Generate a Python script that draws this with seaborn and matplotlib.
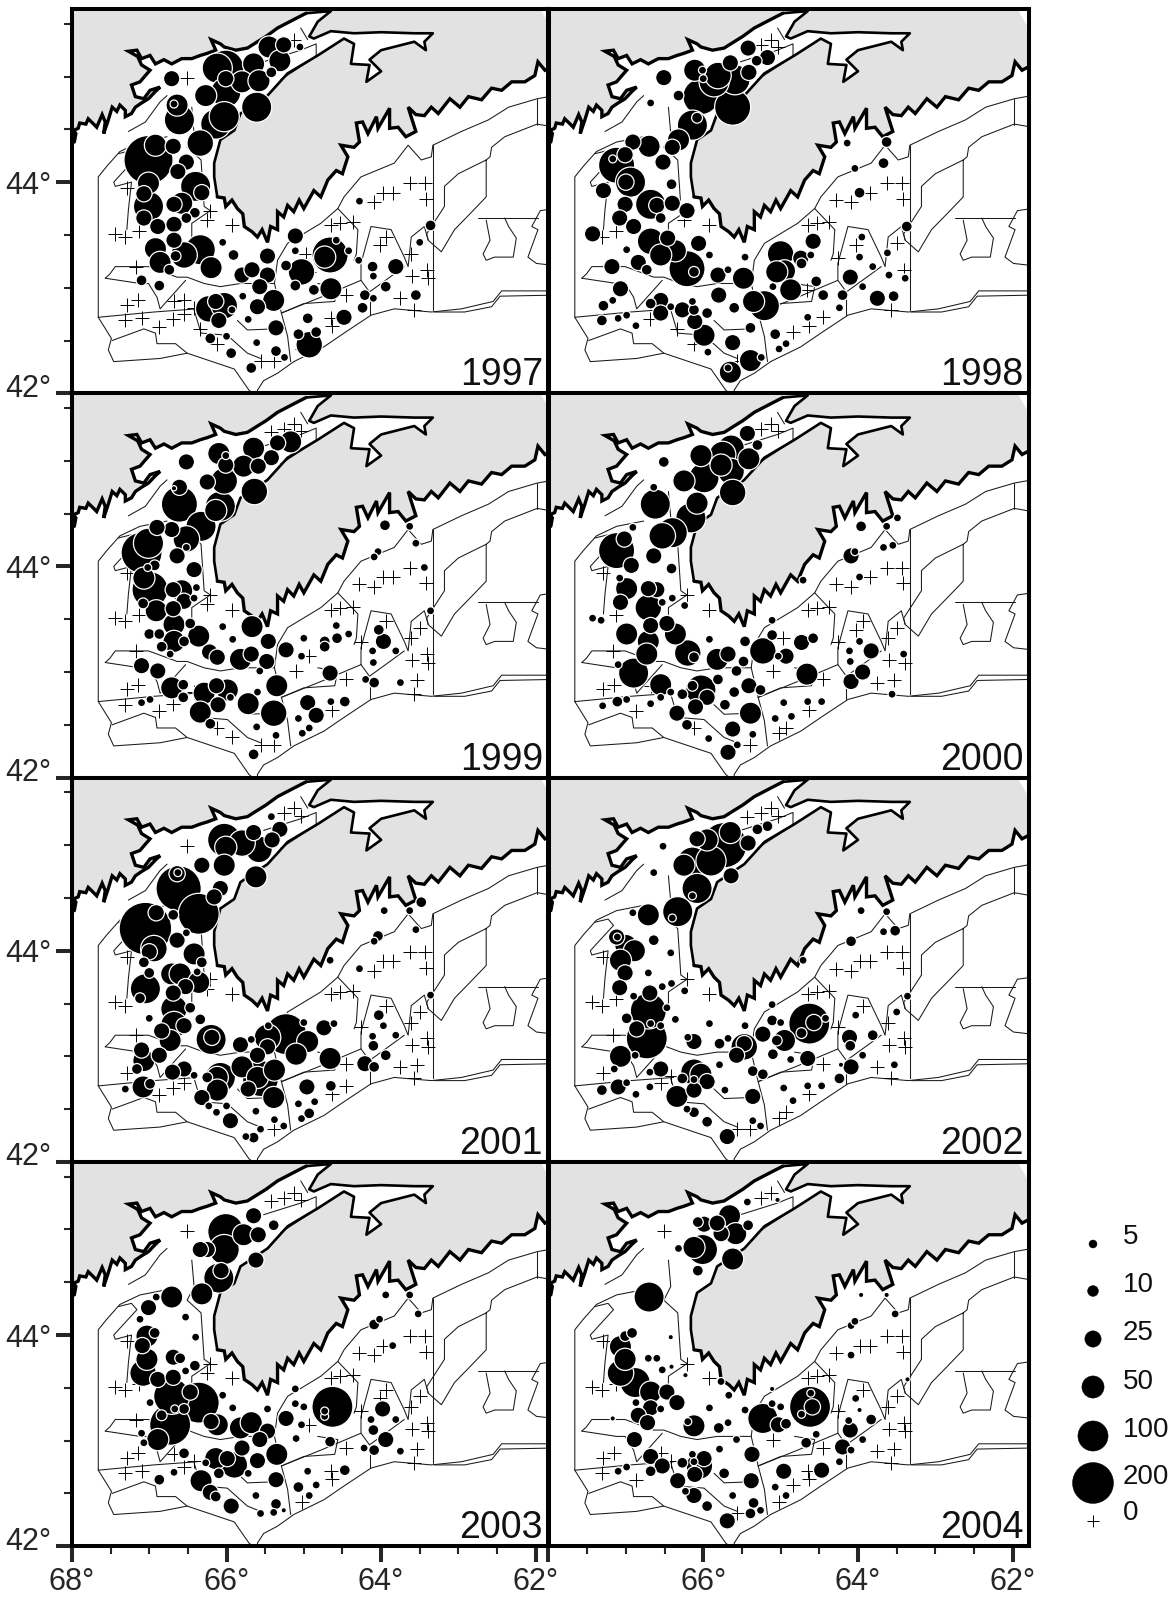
import matplotlib
matplotlib.use("Agg")
import matplotlib.pyplot as plt
import matplotlib.transforms as mtransforms
import seaborn as sns
import numpy as np
import pandas as pd

sns.set_theme(style="white")
plt.rcParams['font.family'] = ['Liberation Sans', 'DejaVu Sans']

# coast in three stretches (lon, lat): north shore, the upper bay, south shore
coast_north = [(67.97,44.38),(67.95,44.46),(67.98,44.49),(67.92,44.51),(67.90,44.56),(67.82,44.55),(67.79,44.60),
    (67.72,44.55),(67.68,44.52),(67.61,44.64),(67.57,44.57),(67.59,44.46),(67.53,44.59),(67.48,44.71),(67.42,44.67),
    (67.38,44.73),(67.31,44.68),(67.31,44.62),(67.23,44.65),(67.18,44.71),(67.10,44.75),(67.01,44.79),(66.92,44.86),
    (66.86,44.90),(66.99,44.87),(67.07,44.79),(67.18,44.81),(67.23,44.92),(67.12,44.95),(67.05,45.01),(66.99,45.06),
    (67.10,45.11),(67.15,45.19),(67.27,45.24),(67.16,45.25),(67.10,45.17),(66.99,45.20),(66.92,45.12),(66.81,45.16),
    (66.71,45.12),(66.58,45.17),(66.45,45.17),(66.34,45.20),(66.25,45.22),(66.14,45.25),(66.20,45.35),(66.08,45.31),
    (66.03,45.28),(65.88,45.25),(65.73,45.27),(65.60,45.33),(65.49,45.38),(65.34,45.46),(65.13,45.54),(64.97,45.60)]
coast_bay = [(64.97,45.60),(64.65,45.62),(64.82,45.52),(64.93,45.38),(64.87,45.36),(64.65,45.43),(64.35,45.41),
    (64.00,45.42),(63.57,45.41),(63.33,45.41),(63.44,45.33),(63.42,45.25),(63.57,45.33),(64.00,45.25),
    (64.15,45.16),(64.00,45.05),(64.19,44.95),(64.15,45.11),(64.39,45.12),(64.35,45.31),(64.48,45.36),
    (64.82,45.20),(65.21,45.03),(65.47,44.82),(65.82,44.65),(65.90,44.49),(66.08,44.40),(66.16,44.18),
    (66.16,44.05),(66.12,43.86)]
coast_south = [(66.12,43.86),(66.03,43.85),(66.01,43.77),(65.93,43.83),(65.86,43.75),(65.79,43.70),(65.77,43.58),(65.67,43.53),
    (65.60,43.48),(65.54,43.55),(65.47,43.43),(65.43,43.58),(65.34,43.55),(65.34,43.72),(65.26,43.67),(65.21,43.78),
    (65.13,43.72),(65.06,43.83),(65.00,43.75),(64.87,43.92),(64.78,43.86),(64.69,44.02),(64.58,44.11),(64.50,44.08),
    (64.43,44.24),(64.52,44.35),(64.35,44.33),(64.28,44.38),(64.32,44.56),(64.24,44.57),(64.17,44.46),(64.06,44.62),
    (64.04,44.51),(63.89,44.70),(63.89,44.51),(63.78,44.52),(63.68,44.43),(63.55,44.48),(63.65,44.71),(63.55,44.64),
    (63.44,44.63),(63.35,44.71),(63.26,44.65),(63.11,44.79),(62.98,44.71),(62.87,44.81),(62.70,44.78),(62.57,44.89),
    (62.44,44.87),(62.31,44.95),(62.14,44.95),(62.01,45.01),(61.97,45.14),(61.88,45.06),(61.75,45.11)]
land_close = [(61.75,45.40),(61.94,45.64),(68.0,45.64),(68.0,44.38)]

# thin depth contours and area boundaries
contours = [
    [(67.66,42.72),(67.66,44.05),(67.55,44.15),(67.38,44.29),(67.12,44.38),(66.77,44.43)],
    [(61.75,44.82),(61.98,44.79),(62.35,44.71),(62.61,44.59),(62.96,44.48),(63.33,44.35),(63.35,44.24),(63.48,44.21),
     (63.65,44.35),(63.83,44.18),(64.26,44.05),(64.48,43.86),(64.56,43.75),(64.78,43.61),(65.21,43.42),(65.34,43.26),
     (65.38,43.04),(65.29,42.76),(65.21,42.54),(65.17,42.30)],
    [(63.33,44.35),(63.33,42.79)],
    [(61.98,44.79),(61.98,44.54)],
    [(61.75,44.52),(61.98,44.55),(62.40,44.43),(62.57,44.33),(62.59,44.24),(62.64,44.21),(62.64,43.86),(62.85,43.70),
     (63.05,43.55),(63.22,43.34),(63.39,43.45),(63.41,43.51),(63.18,43.77),(63.18,43.96),(63.00,44.08),(62.64,44.21)],
    [(62.74,43.66),(61.97,43.66)],
    [(62.64,43.64),(62.59,43.45),(62.68,43.32),(62.64,43.26),(62.53,43.29),(62.29,43.29),(62.25,43.47),(62.35,43.58),(62.40,43.66)],
    [(61.75,43.75),(61.94,43.73),(62.05,43.58),(61.97,43.55),(62.10,43.29),(61.99,43.23),(61.75,43.21)],
    [(61.75,42.97),(62.44,42.97),(62.55,42.87),(62.96,42.80),(63.35,42.77),(63.83,42.80),(64.13,42.74),(64.48,42.57),
     (64.74,42.44),(65.13,42.30),(65.34,42.19),(65.52,42.12),(65.60,42.03),(65.60,42.0)],
    [(61.75,42.93),(62.46,42.92),(62.57,42.82),(62.92,42.77),(63.31,42.77)],
    [(67.66,42.72),(67.49,42.52),(67.53,42.41),(67.46,42.30),(66.86,42.33),(66.51,42.38),(65.90,42.23),(65.71,42.03),(65.66,42.0)],
    [(67.48,42.50),(67.07,42.61),(66.92,42.57),(66.90,42.47),(66.66,42.47),(66.51,42.38)],
    [(67.66,42.72),(66.94,42.77),(66.38,42.80)],
    [(67.57,43.09),(67.51,43.13),(67.44,43.20),(67.29,43.20),(67.01,43.20),(66.64,43.10),(66.51,43.10),(66.29,43.04),
     (66.08,43.01),(65.82,43.04),(65.38,43.04)],
    [(67.57,43.09),(67.12,43.04),(67.01,43.04),(66.90,42.91),(66.86,42.80),(66.53,43.07)],
    [(66.42,42.79),(66.33,42.57),(65.99,42.55),(65.73,42.38),(65.56,42.33)],
    [(65.86,42.69),(65.73,42.60),(65.38,42.61)],
    [(65.29,42.76),(64.78,42.91),(64.26,43.07),(64.26,43.23),(64.13,43.58),(63.87,43.55),(63.70,43.29),(63.65,43.20),
     (63.61,43.48),(63.44,43.58),(63.39,43.45)],
    [(64.26,43.07),(64.15,42.96),(63.83,43.13),(63.70,43.20)],
    [(64.56,43.75),(64.30,43.55),(64.32,43.32),(64.35,43.26)],
    [(64.15,42.94),(64.15,42.74)],
    [(64.82,43.04),(64.56,43.01),(64.60,42.87),(65.00,42.85),(65.29,42.76)],
    [(67.27,44.48),(67.05,44.57),(66.86,44.76),(66.77,44.82)],
    [(65.52,45.14),(65.04,45.25),(64.84,45.31),(64.84,45.19),(65.30,44.97)],
    [(65.04,45.46),(64.95,45.35)],
    [(67.29,43.55),(67.27,43.74),(67.23,44.00),(67.44,43.96),(67.46,44.00),(67.16,44.24),(67.23,44.30),(67.40,44.27)],
    [(66.45,44.71),(66.42,44.46),(66.51,44.33),(66.33,44.21),(66.29,43.77),(66.21,43.73),(66.45,43.61),(66.45,43.45)],
]

# stations with no catch unless a year's list has a bubble there
zero_sets = [(67.29,43.94),(67.44,43.51),(67.31,43.48),(67.13,43.54),(67.17,43.20),(67.29,42.84),(67.15,42.88),(67.31,42.69),
    (67.10,42.71),(66.87,42.63),(66.69,42.70),(66.55,42.75),(66.68,42.87),(66.55,42.88),(66.42,42.81),(66.34,42.61),
    (66.12,42.47),(65.93,42.38),(65.56,42.31),(65.39,42.31),(66.25,43.64),(65.93,43.59),(66.21,43.73),(65.13,45.35),
    (65.04,45.28),(65.26,45.30),(65.43,45.27),(66.51,44.99),(64.65,43.59),(64.53,43.61),(64.37,43.62),(64.09,43.81),
    (63.98,43.90),(63.85,43.90),(63.62,43.99),(63.43,43.99),(63.42,43.84),(64.29,43.83),(63.94,43.48),(64.02,43.40),
    (63.61,43.32),(63.50,43.42),(63.60,43.11),(63.41,43.17),(63.39,43.09),(63.75,42.90),(63.53,42.92),(63.57,42.79),
    (64.45,42.93),(64.65,42.71),(64.63,42.64),(64.45,42.72),(64.97,43.32),(64.93,43.15),(65.10,43.01),(65.02,42.42),
    (64.93,42.47),(64.84,42.58),(64.66,42.98),(64.26,43.28)]

# catch per station: lon, lat, value
sets_1997 = [(65.45,45.28,50),(65.26,45.30,25),(65.31,45.15,50),(65.05,45.28,5),(65.65,45.12,50),(65.42,45.04,10),
    (66.01,45.08,150),(66.12,45.08,100),(66.01,44.98,25),(65.80,44.95,50),(65.58,44.96,50),(66.71,44.98,25),
    (65.61,44.71,100),(66.01,44.85,100),(66.27,44.82,50),(66.64,44.73,50),(66.68,44.74,5),(66.61,44.59,100),
    (66.14,44.55,100),(66.03,44.62,100),(66.34,44.37,75),(66.69,44.34,25),(66.92,44.35,50),(67.01,44.21,300),
    (66.52,44.19,25),(66.63,44.10,25),(67.01,43.99,50),(66.40,43.96,100),(66.32,43.90,25),(67.07,43.89,25),
    (67.01,43.77,100),(66.68,43.79,25),(66.58,43.80,50),(66.41,43.71,10),(67.07,43.66,25),(66.89,43.58,25),
    (66.68,43.60,25),(66.52,43.66,10),(66.68,43.45,25),(66.92,43.37,50),(66.86,43.24,50),(66.66,43.30,10),
    (66.55,43.31,75),(66.34,43.36,100),(66.74,43.17,10),(66.20,43.19,50),(66.05,43.43,5),(65.91,43.31,10),
    (67.10,43.07,10),(66.87,43.02,10),(65.80,43.12,25),(65.67,43.17,25),(65.47,43.30,25),(65.47,43.12,25),
    (65.57,43.01,25),(65.11,43.49,25),(65.11,43.35,5),(65.23,43.21,10),(65.03,43.15,75),(65.11,43.02,10),
    (64.87,42.98,10),(64.65,42.99,50),(64.66,43.31,150),(64.73,43.29,50),(64.58,43.45,5),(64.42,43.35,5),
    (64.29,43.26,5),(64.28,43.82,5),(64.11,43.20,10),(64.10,43.11,5),(63.81,43.20,25),(63.94,43.01,10),
    (63.55,42.93,10),(63.36,43.59,10),(63.50,43.43,5),(64.21,42.93,10),(64.10,42.90,5),(64.24,42.81,10),
    (64.48,42.72,25),(65.39,42.88,50),(65.60,42.82,25),(65.79,42.92,5),(66.23,42.80,75),(66.03,42.83,75),
    (66.14,42.87,25),(65.93,42.79,5),(66.10,42.69,25),(65.36,42.62,25),(65.72,42.70,5),(64.95,42.71,10),
    (65.07,42.56,10),(64.84,42.58,10),(64.93,42.46,75),(66.21,42.52,10),(66.00,42.54,5),(65.94,42.38,10),
    (65.61,42.48,5),(65.36,42.40,10),(65.25,42.34,5),(65.68,42.24,10)]
sets_1998 = [(65.42,45.27,25),(65.17,45.18,25),(65.31,45.15,10),(65.65,45.13,25),(65.41,45.04,25),(66.51,44.99,25),
    (66.11,45.06,50),(66.01,45.06,5),(66.00,44.98,5),(65.81,45.01,75),(65.59,44.97,100),(66.03,44.81,150),
    (65.86,44.95,100),(66.32,44.82,10),(65.62,44.71,150),(66.14,44.54,100),(66.08,44.61,10),(66.68,44.75,5),
    (66.32,44.40,50),(66.40,44.33,25),(66.70,44.34,50),(66.91,44.38,25),(66.52,44.19,25),(67.01,44.26,25),
    (67.12,44.16,150),(67.17,44.22,5),(66.94,44.00,100),(67.00,44.00,25),(67.29,43.92,25),(66.41,43.98,10),
    (66.68,43.79,100),(66.60,43.78,25),(66.40,43.80,25),(67.01,43.79,25),(67.08,43.66,25),(66.21,43.73,25),
    (66.55,43.66,10),(66.90,43.58,25),(67.43,43.51,25),(66.68,43.44,75),(66.46,43.47,25),(66.06,43.42,25),
    (66.99,43.36,5),(66.36,43.35,50),(66.55,43.31,50),(66.84,43.24,25),(66.21,43.18,150),(66.12,43.15,10),
    (66.73,43.17,10),(67.18,43.20,25),(65.92,43.31,5),(65.81,43.12,25),(65.68,43.17,5),(65.48,43.09,50),
    (65.46,43.29,5),(67.07,42.99,25),(67.17,42.88,5),(67.29,42.83,10),(67.31,42.69,10),(67.10,42.71,5),
    (66.99,42.74,5),(66.87,42.64,5),(66.68,42.85,10),(66.55,42.88,25),(66.55,42.76,25),(66.42,42.82,5),
    (66.27,42.79,25),(66.14,42.87,5),(66.12,42.79,10),(65.95,42.76,10),(66.11,42.68,25),(65.99,42.55,50),
    (65.80,42.93,25),(65.60,42.81,10),(65.35,42.87,50),(65.21,42.83,100),(65.39,42.62,10),(65.62,42.48,25),
    (65.94,42.39,5),(65.39,42.31,50),(65.25,42.34,5),(65.65,42.20,50),(65.68,42.24,5),(65.07,42.56,10),
    (64.93,42.47,5),(65.02,42.42,5),(64.65,42.72,5),(65.00,43.32,75),(64.95,43.16,50),(65.05,43.15,50),
    (65.10,43.01,5),(64.87,42.98,50),(64.74,43.28,25),(64.73,43.23,10),(64.58,43.44,25),(64.61,43.31,5),
    (64.54,43.06,10),(64.45,42.93,10),(64.20,42.93,10),(64.10,43.10,25),(63.94,43.01,5),(63.75,42.90,25),
    (63.54,42.92,10),(63.60,43.12,5),(63.39,43.09,5),(63.81,43.20,5),(63.98,43.29,5),(63.95,43.48,5),
    (63.62,43.33,5),(63.37,43.58,10),(63.98,43.90,10),(63.67,44.18,10),(63.63,44.38,10),(64.14,44.37,5),
    (64.04,44.13,5),(64.24,42.81,5)]
sets_1999 = [(65.17,45.18,50),(65.34,45.17,25),(65.65,45.12,50),(65.42,45.03,25),(65.59,44.95,25),(65.78,44.95,50),
    (66.10,45.07,50),(66.01,45.05,5),(66.01,44.96,25),(66.52,44.99,25),(66.25,44.80,25),(66.03,44.81,75),
    (65.64,44.71,75),(66.61,44.75,25),(66.68,44.74,2),(66.61,44.59,150),(66.08,44.57,100),(66.14,44.53,50),
    (66.33,44.38,100),(66.52,44.26,75),(66.52,44.18,5),(66.71,44.35,25),(66.90,44.37,25),(67.01,44.22,100),
    (67.10,44.13,200),(66.64,44.10,25),(66.93,44.01,10),(67.02,43.99,5),(66.42,43.97,25),(67.07,43.89,50),
    (66.99,43.78,150),(66.69,43.78,25),(66.58,43.77,50),(66.39,43.80,5),(66.42,43.70,5),(66.55,43.67,25),
    (67.08,43.65,10),(66.91,43.58,50),(66.69,43.60,25),(66.68,43.45,50),(66.47,43.46,10),(67.00,43.36,10),
    (66.87,43.36,10),(66.68,43.29,50),(66.55,43.29,10),(66.36,43.34,50),(66.84,43.24,10),(66.73,43.17,5),
    (66.22,43.19,25),(66.12,43.14,25),(66.05,43.43,5),(65.92,43.31,5),(65.82,43.12,50),(65.68,43.17,25),
    (65.48,43.10,25),(65.46,43.29,25),(65.67,43.43,50),(65.57,43.01,5),(65.23,43.21,25),(65.00,43.32,5),
    (65.03,43.15,5),(64.66,42.99,25),(64.73,43.29,10),(64.57,43.32,10),(64.73,43.24,10),(64.58,43.44,5),
    (64.42,43.36,5),(64.03,43.40,10),(63.97,43.29,25),(64.11,43.20,5),(64.10,43.09,5),(63.81,43.20,5),
    (67.10,43.06,25),(66.89,43.01,25),(66.71,42.85,50),(66.56,42.88,10),(66.56,42.76,10),(66.99,42.74,5),
    (67.10,42.71,5),(66.29,42.80,50),(66.13,42.87,25),(65.99,42.83,50),(66.11,42.69,25),(66.34,42.62,50),
    (65.95,42.76,5),(65.72,42.70,50),(65.39,42.61,75),(65.35,42.87,50),(65.60,42.81,5),(66.21,42.51,10),
    (65.61,42.48,5),(65.36,42.40,5),(65.65,42.22,10),(64.95,42.71,25),(64.84,42.59,25),(64.65,42.72,5),
    (64.47,42.72,10),(65.07,42.56,5),(64.93,42.47,5),(65.02,42.42,5),(64.20,42.93,5),(64.09,42.90,10),
    (63.75,42.90,5),(63.95,44.39,10),(63.63,44.38,5),(64.04,44.14,5),(64.09,44.09,5),(63.55,44.22,5),
    (63.44,43.99,5),(63.36,43.58,5)]
sets_2000 = [(65.43,45.26,25),(65.30,45.15,10),(65.64,45.12,75),(65.41,45.02,50),(66.03,45.05,50),(65.77,44.96,50),
    (65.75,45.06,75),(65.64,44.90,75),(65.99,44.84,100),(66.25,44.81,50),(66.51,44.99,10),(65.62,44.70,75),
    (66.62,44.59,100),(66.64,44.75,5),(66.08,44.60,50),(66.16,44.46,100),(66.40,44.32,100),(66.53,44.29,75),
    (66.91,44.37,5),(67.02,44.26,25),(67.12,44.15,150),(66.64,44.10,25),(66.93,44.01,25),(66.41,43.98,10),
    (67.08,43.89,5),(66.99,43.79,50),(66.60,43.78,25),(66.71,43.79,25),(67.07,43.66,25),(66.71,43.61,75),
    (66.53,43.66,5),(66.40,43.70,5),(66.68,43.44,25),(66.47,43.46,25),(66.99,43.36,50),(66.71,43.29,50),
    (66.36,43.36,50),(66.73,43.17,50),(66.20,43.18,75),(66.12,43.14,10),(66.90,42.99,100),(67.10,43.07,5),
    (67.43,43.51,5),(67.32,43.49,5),(66.55,42.88,50),(66.42,42.81,5),(66.55,42.76,5),(66.68,42.70,5),
    (66.99,42.74,5),(67.11,42.72,10),(67.30,42.68,5),(66.03,42.83,100),(66.14,42.87,10),(65.95,42.76,25),
    (66.27,42.79,10),(66.10,42.67,25),(66.34,42.61,25),(65.81,42.93,10),(65.60,42.81,10),(65.72,42.69,10),
    (65.39,42.61,50),(65.41,42.87,25),(65.26,42.83,10),(66.21,42.50,10),(65.62,42.46,25),(65.93,42.37,5),
    (65.68,42.24,25),(65.36,42.41,5),(65.56,42.31,5),(65.23,43.20,75),(65.11,43.35,10),(64.93,43.15,25),
    (65.03,43.15,5),(65.68,43.17,25),(65.82,43.12,50),(65.48,43.10,10),(65.46,43.29,10),(65.57,43.01,10),
    (64.73,43.28,25),(64.58,43.32,10),(64.66,42.98,50),(64.09,42.91,25),(63.94,43.00,25),(63.83,43.20,25),
    (63.96,44.38,10),(63.63,44.38,5),(63.49,44.46,5),(64.09,44.10,25),(64.04,44.14,5),(63.98,43.90,5),
    (63.67,44.18,5),(63.55,44.20,5),(63.56,42.79,5),(63.41,43.17,5),(64.11,43.20,5),(63.98,43.29,5),
    (64.10,43.10,5),(64.96,42.71,5),(64.65,42.72,5),(64.47,42.72,5),(65.07,42.56,5),(64.86,42.58,5),
    (65.11,43.49,5),(64.71,43.87,5),(66.24,43.63,5),(65.92,43.31,5)]
sets_2001 = [(65.42,45.27,5),(65.31,45.15,25),(65.65,45.12,25),(66.03,45.05,125),(66.01,44.98,50),(65.58,44.96,75),
    (65.80,45.02,75),(65.41,45.05,25),(66.03,44.81,50),(66.32,44.81,25),(65.62,44.70,50),(66.62,44.59,250),
    (66.64,44.73,25),(66.63,44.74,5),(66.08,44.59,25),(66.16,44.51,25),(66.36,44.35,200),(67.05,44.21,350),
    (66.91,44.36,25),(66.69,44.34,10),(66.52,44.17,5),(66.64,44.10,25),(67.00,43.99,25),(66.94,44.02,75),
    (66.42,43.97,50),(66.32,43.89,10),(67.07,43.89,10),(67.00,43.79,10),(67.05,43.64,100),(66.71,43.78,50),
    (66.60,43.78,50),(66.38,43.80,5),(66.53,43.66,25),(66.69,43.60,25),(66.36,43.70,50),(67.12,43.55,10),
    (66.68,43.45,75),(66.47,43.46,10),(67.00,43.36,5),(66.34,43.35,10),(66.68,43.30,75),(66.55,43.29,25),
    (66.84,43.24,25),(66.73,43.15,50),(67.10,43.06,25),(66.87,43.01,25),(67.07,42.96,50),(67.16,42.88,10),
    (66.55,42.88,25),(66.70,42.85,25),(66.42,42.82,5),(67.08,42.71,50),(66.99,42.74,10),(66.25,42.80,10),
    (66.12,42.80,50),(66.08,42.80,100),(66.32,42.61,25),(66.12,42.68,50),(65.80,42.90,50),(65.60,42.80,50),
    (65.38,42.87,50),(65.56,42.79,150),(65.72,42.69,25),(65.39,42.61,50),(66.20,43.16,100),(66.19,43.18,25),
    (65.82,43.11,25),(65.68,43.16,5),(65.47,43.09,25),(65.46,43.29,5),(65.60,43.01,25),(65.23,43.21,200),
    (64.95,43.14,50),(65.10,43.02,50),(65.47,43.18,75),(64.74,43.27,25),(64.61,43.31,5),(64.66,42.98,50),
    (64.21,42.93,25),(64.09,42.90,10),(63.94,43.01,10),(64.03,43.39,10),(63.97,43.29,5),(64.11,43.19,5),
    (64.10,43.10,10),(63.81,43.20,5),(63.48,44.46,10),(63.96,44.38,5),(64.28,43.83,5),(64.66,43.91,5),
    (64.09,44.09,5),(64.04,44.14,10),(63.55,44.20,5),(63.63,44.38,5),(63.36,43.58,5),(64.96,42.71,25),
    (64.65,42.72,10),(65.07,42.55,5),(64.86,42.57,5),(64.93,42.46,10),(65.03,42.41,5),(65.62,42.48,5),
    (65.95,42.39,25),(66.23,42.53,5),(66.00,42.53,5),(66.13,42.47,5),(65.56,42.31,5),(65.38,42.40,5),
    (65.26,42.34,5),(65.65,42.23,10),(65.75,42.24,5),(67.31,42.69,5),(65.00,43.32,5)]
sets_2002 = [(65.17,45.18,10),(65.30,45.15,10),(66.52,44.99,5),(65.65,45.12,50),(65.42,45.02,25),(66.08,45.06,25),
    (65.95,45.05,50),(65.73,45.00,250),(66.25,44.81,50),(66.14,44.84,100),(65.90,44.85,100),(65.64,44.71,25),
    (66.08,44.59,100),(66.14,44.52,5),(66.33,44.37,100),(66.40,44.31,5),(66.71,44.34,50),(66.91,44.36,5),
    (67.12,44.13,25),(67.11,44.13,5),(67.00,44.05,50),(66.89,44.00,50),(67.07,43.91,50),(67.01,43.79,25),
    (67.08,43.65,25),(66.64,44.10,10),(66.42,43.98,5),(66.64,44.74,5),(66.71,43.43,150),(66.69,43.60,25),
    (66.53,43.66,5),(66.90,43.57,5),(66.71,43.79,5),(66.41,43.69,5),(66.47,43.46,5),(66.99,43.36,10),
    (66.73,43.17,200),(66.86,43.26,25),(66.68,43.31,5),(66.55,43.29,5),(67.07,43.00,50),(66.88,43.01,5),
    (67.15,42.88,5),(67.31,42.68,10),(67.10,42.71,25),(66.99,42.75,5),(66.87,42.64,5),(66.69,42.85,5),
    (66.55,42.88,25),(66.69,42.71,5),(66.12,42.85,75),(65.95,42.76,25),(66.03,42.83,50),(66.27,42.79,10),
    (66.12,42.78,5),(66.12,42.68,25),(66.34,42.62,50),(66.21,42.50,5),(66.12,42.47,10),(65.95,42.38,10),
    (65.36,42.62,25),(65.36,42.86,10),(65.23,42.83,10),(65.79,42.92,5),(65.72,42.68,5),(66.12,43.14,25),
    (66.20,43.18,5),(66.36,43.35,5),(65.92,43.31,5),(66.24,43.62,5),(65.79,43.12,10),(65.68,43.17,5),
    (65.47,43.12,25),(65.57,43.01,25),(65.47,43.09,75),(65.46,43.29,5),(65.23,43.21,25),(65.10,43.02,10),
    (65.11,43.34,10),(65.00,43.32,5),(65.05,43.15,10),(64.95,43.15,50),(64.87,42.97,5),(64.65,42.98,25),
    (64.63,43.31,200),(64.57,43.32,25),(64.73,43.22,10),(64.42,43.36,5),(64.11,43.18,25),(64.10,43.10,10),
    (64.03,43.39,5),(63.94,43.01,5),(63.81,43.20,10),(64.09,42.90,25),(64.22,42.92,2),(64.24,42.79,10),
    (63.53,42.92,5),(64.96,42.70,5),(64.65,42.72,5),(64.47,42.72,5),(64.84,42.58,5),(65.36,42.39,5),
    (65.26,42.34,5),(65.69,42.24,25),(63.50,43.42,5),(63.36,43.57,5),(63.52,44.19,10),(63.67,44.18,5),
    (63.63,44.37,5),(63.96,44.38,5),(64.09,44.09,10),(64.71,43.91,5),(65.11,43.49,5)]
sets_2003 = [(65.65,45.13,25),(65.39,45.04,10),(66.01,44.98,150),(65.78,44.95,50),(65.59,44.95,25),(66.03,44.81,100),
    (66.25,44.81,25),(66.34,44.81,25),(65.62,44.71,25),(66.07,44.61,25),(66.10,44.54,100),(66.32,44.39,50),
    (66.71,44.36,50),(66.91,44.36,5),(67.01,44.26,25),(67.12,44.15,5),(67.03,43.99,50),(66.93,44.02,10),
    (67.09,43.90,25),(67.03,43.77,50),(67.08,43.64,75),(66.89,43.58,25),(66.69,43.79,25),(66.60,43.78,10),
    (66.41,43.71,10),(66.53,43.66,5),(66.69,43.60,25),(66.40,43.98,5),(66.53,44.17,5),(66.36,43.36,200),
    (66.71,43.42,150),(66.73,43.15,200),(66.47,43.46,25),(66.55,43.30,10),(66.67,43.30,5),(66.84,43.24,10),
    (66.99,43.36,5),(66.05,43.43,5),(65.92,43.31,5),(66.89,43.01,50),(67.10,43.07,5),(67.07,42.98,5),
    (66.55,42.88,10),(66.68,42.70,5),(66.87,42.63,10),(66.20,43.18,25),(66.12,43.15,50),(65.82,43.12,50),
    (65.68,43.17,50),(65.47,43.09,25),(65.47,43.30,5),(65.57,43.01,25),(65.80,42.93,25),(65.60,42.81,25),
    (65.35,42.87,50),(65.99,42.83,25),(66.14,42.83,50),(65.90,42.77,75),(66.27,42.79,5),(66.10,42.69,10),
    (66.33,42.62,50),(65.72,42.69,5),(65.36,42.63,25),(66.21,42.51,25),(66.14,42.47,10),(65.94,42.38,25),
    (65.23,43.21,25),(65.11,43.35,5),(65.10,43.02,5),(65.00,43.32,5),(65.03,43.15,5),(64.63,43.32,200),
    (64.73,43.23,5),(64.73,43.28,5),(64.66,42.99,10),(63.98,43.30,25),(64.13,43.20,5),(64.10,43.10,10),
    (63.94,43.01,25),(64.09,42.91,10),(64.22,42.93,5),(63.75,42.90,5),(63.81,43.20,5),(63.94,44.38,5),
    (63.63,44.38,5),(64.09,44.10,10),(64.02,44.15,5),(63.52,44.20,5),(63.85,43.90,5),(64.95,42.71,5),
    (64.47,42.72,10),(65.07,42.56,10),(64.84,42.58,5),(64.93,42.48,5),(65.62,42.48,5),(65.36,42.40,10),
    (65.39,42.32,5),(65.56,42.31,5),(65.26,42.34,2),(65.11,43.49,5)]
sets_2004 = [(65.43,45.26,5),(65.04,45.28,2),(65.66,45.13,50),(65.42,45.04,10),(66.07,45.07,10),(65.99,45.05,25),
    (65.77,44.96,25),(65.58,44.96,50),(65.82,45.06,25),(66.01,44.81,100),(66.12,44.83,50),(66.32,44.82,5),
    (66.07,44.61,10),(65.62,44.72,50),(66.70,44.36,100),(67.01,43.99,10),(66.92,44.02,10),(67.07,43.89,50),
    (67.01,43.77,50),(67.07,43.64,75),(66.88,43.55,100),(66.71,43.78,5),(66.60,43.78,5),(66.53,43.67,5),
    (66.42,43.98,2),(66.41,43.70,2),(66.23,43.62,2),(65.77,43.56,5),(65.67,43.43,5),(66.68,43.46,50),
    (66.47,43.46,25),(66.68,43.31,25),(66.34,43.36,25),(66.55,43.30,5),(66.87,43.36,5),(66.84,43.24,25),
    (66.72,43.17,25),(67.17,43.21,2),(66.89,43.01,25),(66.68,42.85,25),(66.53,42.76,25),(66.68,42.71,10),
    (66.99,42.75,5),(67.10,42.71,5),(66.27,42.79,10),(66.05,42.76,75),(65.99,42.83,25),(66.14,42.87,5),
    (66.12,42.80,5),(66.11,42.68,25),(66.33,42.62,25),(66.12,42.48,25),(66.23,42.52,5),(65.73,42.69,10),
    (65.95,42.38,10),(65.62,42.48,5),(65.38,42.62,25),(65.37,42.87,25),(65.79,42.92,5),(66.20,43.18,5),
    (66.12,43.14,50),(65.80,43.12,10),(65.68,43.17,5),(65.46,43.29,5),(65.57,43.01,5),(65.92,43.31,5),
    (65.23,43.21,100),(65.03,43.15,25),(64.93,43.16,10),(65.11,43.35,5),(65.00,43.32,5),(64.67,42.98,10),
    (64.62,43.32,200),(64.59,43.32,25),(64.73,43.25,5),(64.61,43.45,5),(64.54,43.06,5),(64.20,42.94,25),
    (64.10,43.10,25),(64.09,42.91,5),(64.12,43.19,5),(63.94,43.01,5),(63.83,43.20,10),(64.24,42.80,5),
    (64.03,43.40,5),(63.98,43.29,2),(64.96,42.71,25),(64.47,42.72,25),(65.07,42.56,5),(64.93,42.48,5),
    (65.35,42.41,10),(65.39,42.31,10),(65.26,42.34,5),(65.69,42.24,25),(64.09,43.81,5),(63.52,44.20,5),
    (63.63,44.38,2),(65.11,43.49,2),(63.96,44.38,2),(64.09,44.09,5),(64.04,44.13,5),(63.36,43.58,2)]

years = [1997, 1998, 1999, 2000, 2001, 2002, 2003, 2004]
year_sets = [sets_1997, sets_1998, sets_1999, sets_2000, sets_2001, sets_2002, sets_2003, sets_2004]
legend_values = [5, 10, 25, 50, 100, 200]

FIG_W, FIG_H = 1175, 1598


def bubble_area(v):
    # legend circles go from 8 px (5) to 41 px (200)
    d_px = 8 * (v / 5) ** 0.443
    return (d_px * 0.72) ** 2


def add_px_axes(fig, x0, y0, x1, y1):
    return fig.add_axes([x0 / FIG_W, 1 - y1 / FIG_H, (x1 - x0) / FIG_W, (y1 - y0) / FIG_H])


def draw_panel(ax, year, catches, right_lon, left_col, bottom_row):
    land = coast_north + coast_bay[1:] + coast_south[1:] + land_close
    ax.fill(*zip(*land), color='#e2e2e2', lw=0, zorder=1)
    for c in contours:
        ax.plot(*zip(*c), color='#1a1a1a', lw=0.75, zorder=2)
    ax.plot(*zip(*coast_north), color='black', lw=2.4, zorder=3, solid_joinstyle='miter')
    ax.plot(*zip(*coast_bay), color='black', lw=1.9, zorder=3, solid_joinstyle='round')
    ax.plot(*zip(*coast_south), color='black', lw=2.4, zorder=3, solid_joinstyle='miter')

    df = pd.DataFrame(catches, columns=['lon', 'lat', 'catch']).sort_values('catch', ascending=False, kind='stable')

    # a station with a bubble that year is not a zero
    zeros = pd.DataFrame(zero_sets, columns=['lon', 'lat'])
    dist = np.hypot(zeros['lon'].values[:, None] - df['lon'].values, zeros['lat'].values[:, None] - df['lat'].values)
    zeros = zeros[dist.min(axis=1) > 0.07]
    sns.scatterplot(data=zeros, x='lon', y='lat', marker='+', s=95, color='black',
                    linewidth=0.7, legend=False, ax=ax, zorder=4)

    sizes = {v: bubble_area(v) for v in df['catch'].unique()}
    sns.scatterplot(data=df, x='lon', y='lat', size='catch', sizes=sizes, color='black',
                    edgecolor='white', linewidth=0.9, legend=False, ax=ax, zorder=5)

    ax.set_xlim(68, right_lon)
    ax.set_ylim(42, 45.64)
    ax.set_xlabel('')
    ax.set_ylabel('')
    ax.text(0.989, 0.021, str(year), transform=ax.transAxes, ha='right', va='baseline',
            fontsize=27, color='#111111', zorder=6)

    for s in ax.spines.values():
        s.set_linewidth(2.9)
        s.set_color('black')
        s.set_visible(True)

    ax.set_xticks([])
    ax.set_yticks([])
    if left_col:
        ax.set_yticks([42, 44])
        ax.set_yticklabels(['42°', '44°'], fontsize=22)
        ax.set_yticks([42.5, 43, 43.5, 44.5, 45, 45.5], minor=True)
        ax.tick_params(axis='y', which='major', left=True, length=11.5, width=2.9, pad=3)
        ax.tick_params(axis='y', which='minor', left=True, length=5.8, width=1.5)
        # the 42° label sits a little above its tick
        lbl = ax.get_yticklabels()[0]
        lbl.set_transform(lbl.get_transform() + mtransforms.ScaledTranslation(0, 8 / 100, ax.figure.dpi_scale_trans))
    if bottom_row:
        ax.set_xticks([68, 66, 64, 62])
        ax.set_xticklabels(['68°' if left_col else '', '66°', '64°', '62°'], fontsize=22)
        ax.set_xticks([67.5, 67, 66.5, 65.5, 65, 64.5, 63.5, 63, 62.5], minor=True)
        ax.tick_params(axis='x', which='major', bottom=True, length=11.5, width=2.9, pad=3.5)
        ax.tick_params(axis='x', which='minor', bottom=True, length=5.8, width=1.5)


def main():
    fig = plt.figure(figsize=(FIG_W / 100, FIG_H / 100), dpi=100)
    fig.patch.set_facecolor('white')

    for i, (year, catches) in enumerate(zip(years, year_sets)):
        row, col = divmod(i, 2)
        top = 9 + row * 384.3
        x0, x1 = (72, 548) if col == 0 else (548.5, 1029)
        ax = add_px_axes(fig, x0, top, x1, top + 384.3)
        right_lon = 61.84 if col == 0 else 61.79
        draw_panel(ax, year, catches, right_lon, col == 0, row == 3)

    # size key, laid out in pixels of its own box
    lax = add_px_axes(fig, 1030, 1200, 1175, 1598)
    lax.set_xlim(0, 145)
    lax.set_ylim(398, 0)
    lax.axis('off')
    key = pd.DataFrame({'x': [63] * 6, 'y': [44, 91, 139, 187, 236, 283], 'v': legend_values})
    sns.scatterplot(data=key, x='x', y='y', size='v', sizes={v: bubble_area(v) for v in legend_values},
                    color='black', edgecolor='black', linewidth=0.3, legend=False, ax=lax, clip_on=False)
    sns.scatterplot(x=[63], y=[321], marker='+', s=80, color='black', linewidth=0.7, legend=False, ax=lax)
    lax.set_xlabel('')
    lax.set_ylabel('')
    for txt, ty in zip([str(v) for v in legend_values] + ['0'], [37, 85, 133, 182, 230, 277, 313]):
        lax.text(93, ty, txt, fontsize=20, ha='left', va='center', color='#111111')

    fig.savefig('out.png', dpi=100, facecolor='white')


if __name__ == '__main__':
    main()
